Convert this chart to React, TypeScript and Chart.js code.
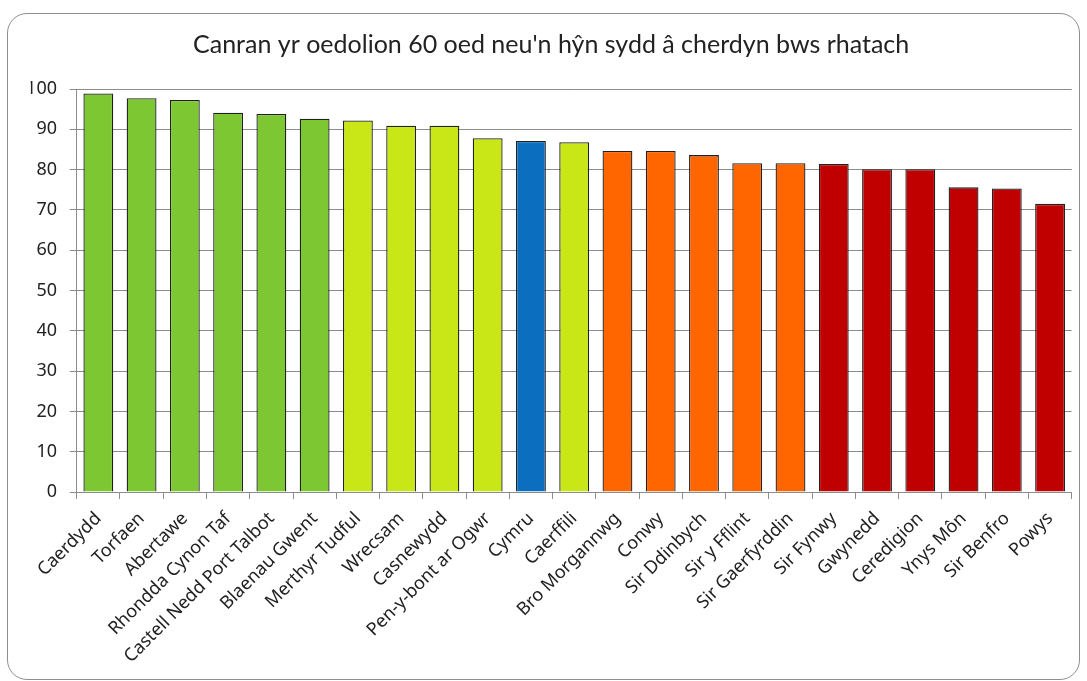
import React, { useEffect, useRef } from "react";
import { Chart, registerables } from "chart.js";

Chart.register(...registerables);

const chartTitle = "Canran yr oedolion 60 oed neu'n hŷn sydd â cherdyn bws rhatach";

const categories = [
  "Caerdydd",
  "Torfaen",
  "Abertawe",
  "Rhondda Cynon Taf",
  "Castell Nedd Port Talbot",
  "Blaenau Gwent",
  "Merthyr Tudful",
  "Wrecsam",
  "Casnewydd",
  "Pen-y-bont ar Ogwr",
  "Cymru",
  "Caerffili",
  "Bro Morgannwg",
  "Conwy",
  "Sir Ddinbych",
  "Sir y Fflint",
  "Sir Gaerfyrddin",
  "Sir Fynwy",
  "Gwynedd",
  "Ceredigion",
  "Ynys Môn",
  "Sir Benfro",
  "Powys",
];

const values = [
  98.9, 97.7, 97.3, 94.1, 93.8, 92.6, 92.2, 90.9, 90.9, 87.8, 87.1, 86.8,
  84.6, 84.6, 83.6, 81.6, 81.6, 81.4, 80.1, 80.1, 75.6, 75.3, 71.5,
];

const GREEN = "#7dc733";
const LIME = "#c9e617";
const BLUE = "#0b6ebf";
const ORANGE = "#ff6600";
const RED = "#c00000";

const barColors = [
  GREEN, GREEN, GREEN, GREEN, GREEN, GREEN,
  LIME, LIME, LIME, LIME,
  BLUE,
  LIME,
  ORANGE, ORANGE, ORANGE, ORANGE, ORANGE,
  RED, RED, RED, RED, RED, RED,
];

export default function App() {
  const ref = useRef<HTMLCanvasElement>(null);

  useEffect(() => {
    if (!ref.current) return;
    const tickFont = { family: "'Noto Sans', sans-serif", size: 18 };
    const chart = new Chart(ref.current, {
      type: "bar",
      data: {
        labels: categories,
        datasets: [
          {
            data: values,
            backgroundColor: barColors,
            borderColor: "#202020",
            borderWidth: 1.3,
            barPercentage: 0.69,
            categoryPercentage: 1,
          },
        ],
      },
      options: {
        responsive: false,
        maintainAspectRatio: false,
        animation: false,
        layout: { padding: { left: 30.6, right: 15.3, top: 0, bottom: 0 } },
        plugins: {
          legend: { display: false },
          tooltip: { enabled: false },
          title: {
            display: true,
            text: chartTitle,
            color: "#222222",
            font: { family: "Lato, sans-serif", size: 25, weight: "normal" },
            padding: { top: 30, bottom: 29 },
          },
        },
        scales: {
          x: {
            grid: {
              drawOnChartArea: false,
              drawTicks: true,
              tickLength: 7,
              color: "#8c8c8c",
              offset: true,
            },
            border: { color: "#8c8c8c" },
            ticks: {
              autoSkip: false,
              minRotation: 45,
              maxRotation: 45,
              font: tickFont,
              color: "#222222",
              padding: 9,
            },
            afterFit: (s: any) => {
              s.height = 189;
            },
          },
          y: {
            min: 0,
            max: 100,
            ticks: {
              stepSize: 10,
              font: tickFont,
              color: "#222222",
              padding: 12.7,
            },
            grid: { color: "#8c8c8c", tickLength: 7 },
            border: { color: "#8c8c8c" },
            afterFit: (s: any) => {
              s.width = 46.1;
            },
          },
        },
      },
    });
    return () => chart.destroy();
  }, []);

  return (
    <div
      style={{
        position: "fixed",
        left: 0,
        top: 0,
        width: 1087,
        height: 681,
        background: "#ffffff",
      }}
    >
      <div
        style={{
          position: "absolute",
          left: 7,
          top: 13,
          width: 1073,
          height: 667,
          boxSizing: "border-box",
          border: "1.5px solid #8f8f8f",
          borderRadius: 20,
        }}
      />
      <canvas
        ref={ref}
        width={1087}
        height={681}
        style={{ position: "absolute", left: 0, top: 0, display: "block" }}
      />
    </div>
  );
}
